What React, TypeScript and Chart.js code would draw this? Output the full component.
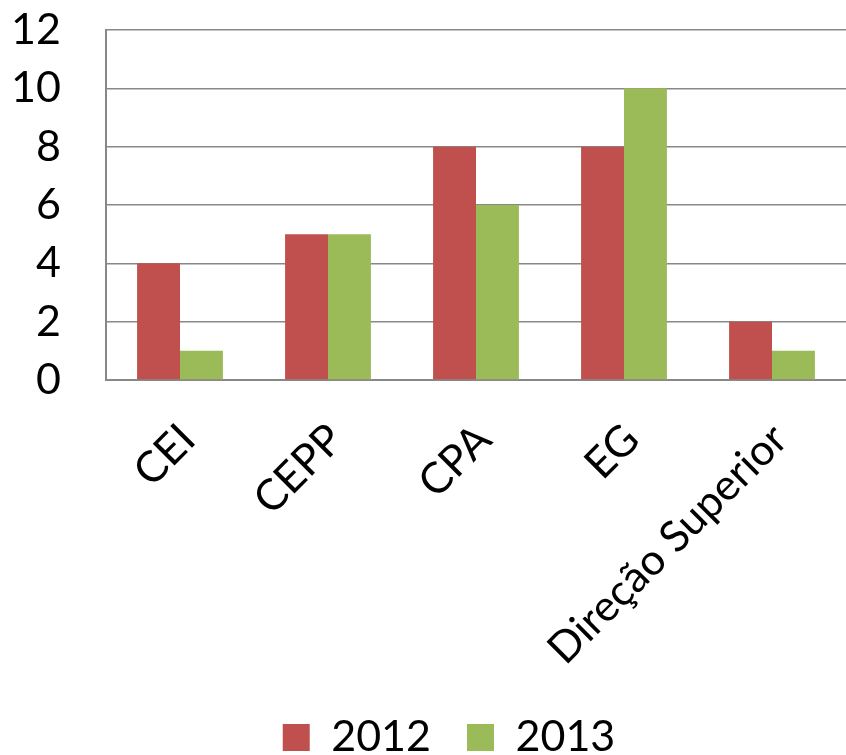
import React, { useEffect, useRef } from "react";
import { Chart, registerables } from "chart.js";

Chart.register(...registerables);

const categories = ["CEI", "CEPP", "CPA", "EG", "Direção Superior"];
const values2012 = [4, 5, 8, 8, 2];
const values2013 = [1, 5, 6, 10, 1];
const seriesLabels = ["2012", "2013"];
const yTicks = [0, 2, 4, 6, 8, 10, 12];

const FONT = "Lato, 'Open Sans', sans-serif";
const FS = 43;

const legendShift = {
  id: "legendShift",
  afterLayout(chart: any) {
    if (chart.legend) {
      chart.legend.left += 22;
      chart.legend.right += 22;
    }
  },
};

export default function App() {
  const ref = useRef<HTMLCanvasElement | null>(null);
  useEffect(() => {
    if (!ref.current) return;
    const chart = new Chart(ref.current, {
      type: "bar",
      data: {
        labels: categories,
        datasets: [
          {
            label: seriesLabels[0],
            data: values2012,
            backgroundColor: "#C0504D",
            borderWidth: 0,
          },
          {
            label: seriesLabels[1],
            data: values2013,
            backgroundColor: "#9BBB59",
            borderWidth: 0,
          },
        ],
      },
      plugins: [legendShift],
      options: {
        animation: false,
        responsive: false,
        maintainAspectRatio: false,
        datasets: { bar: { barPercentage: 1, categoryPercentage: 0.58 } },
        layout: { padding: { top: 30, right: 0, left: 8, bottom: -14 } },
        plugins: {
          tooltip: { enabled: false },
          legend: {
            position: "bottom",
            labels: {
              font: { family: FONT, size: FS },
              color: "#000",
              boxWidth: 27,
              boxHeight: 27,
              padding: 36,
            },
          },
        },
        scales: {
          x: {
            grid: { display: false, drawTicks: false },
            border: { display: true, color: "#888", width: 2 },
            ticks: {
              font: { family: FONT, size: FS },
              color: "#000",
              maxRotation: 45,
              minRotation: 45,
              padding: 34,
              labelOffset: 8,
            },
            afterFit: (s: any) => {
              s.height = 300;
              s.paddingLeft = 0;
              s.paddingRight = 0;
            },
          },
          y: {
            min: 0,
            max: 12,
            afterBuildTicks: (axis: any) => {
              axis.ticks = yTicks.map((v) => ({ value: v }));
            },
            grid: { color: "#888", lineWidth: 1.5, drawTicks: false },
            border: { display: true, color: "#888", width: 2 },
            ticks: {
              font: { family: FONT, size: FS },
              color: "#000",
              padding: 45,
            },
            afterFit: (s: any) => {
              s.width = 98;
              s.paddingTop = 0;
              s.paddingBottom = 0;
            },
          },
        },
      },
    });
    return () => chart.destroy();
  }, []);
  return (
    <div style={{ position: "absolute", left: 0, top: 0, width: 846, height: 755, background: "#fff" }}>
      <canvas ref={ref} width={846} height={755} />
    </div>
  );
}
